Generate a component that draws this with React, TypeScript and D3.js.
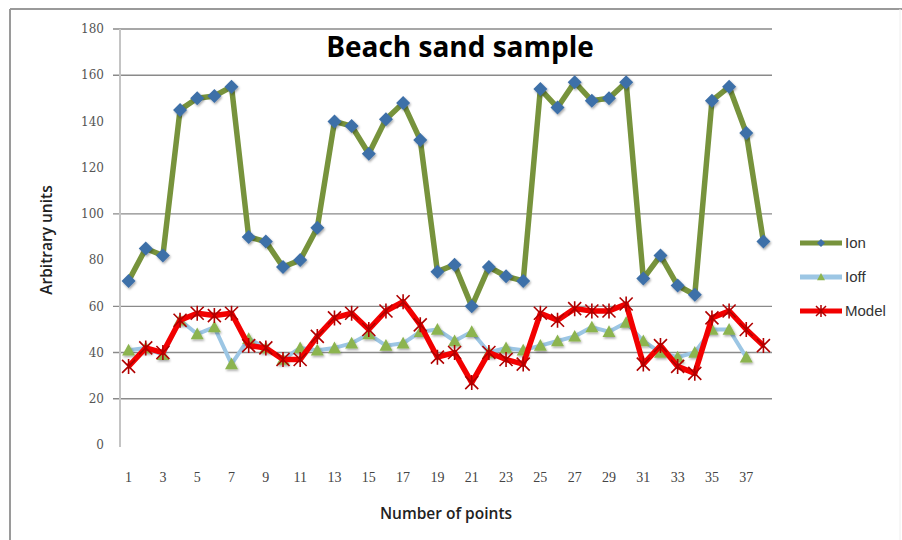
import React from "react";
import * as d3 from "d3";

const points: number[] = d3.range(1, 39);
const ionValues: number[] = [71, 85, 82, 145, 150, 151, 155, 90, 88, 77, 80, 94, 140, 138, 126, 141, 148, 132, 75, 78, 60, 77, 73, 71, 154, 146, 157, 149, 150, 157, 72, 82, 69, 65, 149, 155, 135, 88];
const ioffValues: (number | null)[] = [41, 42, 39, 54, 48, 51, 35, 46, 42, 37, 42, 41, 42, 44, 48, 43, 44, 49, 50, 45, 49, 40, 42, 41, 43, 45, 47, 51, 49, 53, 45, 40, 38, 40, 50, 50, 38, null];
const modelValues: number[] = [34, 42, 40, 54, 57, 56, 57, 43, 42, 37, 37, 47, 55, 57, 50, 58, 62, 52, 38, 40, 27, 40, 37, 35, 57, 54, 59, 58, 58, 61, 35, 43, 34, 31, 55, 58, 50, 43];
const yTicks: number[] = [0, 20, 40, 60, 80, 100, 120, 140, 160, 180];
const gridValues: number[] = [20, 40, 60, 100, 160, 180];
const seriesNames: string[] = ["Ion", "Ioff", "Model"];

const W = 902;
const H = 540;

export default function App() {
  const x = d3.scaleBand<number>().domain(points).range([120, 772]);
  const y = d3.scaleLinear().domain([0, 180]).range([445, 29]);
  const cx = (p: number) => (x(p) as number) + x.bandwidth() / 2;

  const line = d3
    .line<[number, number | null]>()
    .defined((d) => d[1] !== null)
    .x((d) => cx(d[0]))
    .y((d) => y(d[1] as number));

  const ionPts: [number, number | null][] = points.map((p, i) => [p, ionValues[i]]);
  const ioffPts: [number, number | null][] = points.map((p, i) => [p, ioffValues[i]]);
  const modelPts: [number, number | null][] = points.map((p, i) => [p, modelValues[i]]);

  const diamond = (px: number, py: number, s = 7) =>
    `M${px},${py - s}L${px + s},${py}L${px},${py + s}L${px - s},${py}Z`;
  const triangle = (px: number, py: number, s = 6.5) =>
    `M${px},${py - s}L${px + s},${py + s * 0.8}L${px - s},${py + s * 0.8}Z`;
  const star = (px: number, py: number, s = 6.5) =>
    `M${px - s},${py - s}L${px + s},${py + s}M${px - s},${py + s}L${px + s},${py - s}M${px},${py - s - 1}L${px},${py + s + 1}`;

  const ionColor = "#77933C";
  const ionMarker = "#3E6FA8";
  const ioffColor = "#9CC6E4";
  const ioffMarker = "#8CB450";
  const modelColor = "#F20000";
  const modelMarker = "#B00000";

  const legendY = [243, 277, 311];

  return (
    <div style={{ position: "absolute", left: 0, top: 0 }}>
      <svg width={W} height={H} style={{ display: "block", background: "#fff" }}>
        <defs>
          <filter id="shadow" x="-50%" y="-50%" width="200%" height="200%">
            <feDropShadow dx="1" dy="1.5" stdDeviation="1" floodColor="#000" floodOpacity="0.35" />
          </filter>
        </defs>
        {/* frame */}
        <line x1={10} y1={9} x2={W} y2={9} stroke="#9a9a9a" strokeWidth={2} />
        <line x1={10} y1={9} x2={10} y2={H} stroke="#9a9a9a" strokeWidth={2} />
        <line x1={900} y1={9} x2={900} y2={H} stroke="#eeeeee" strokeWidth={1} />

        {/* gridlines */}
        {gridValues.map((v) => (
          <line key={"g" + v} x1={113} x2={772} y1={y(v)} y2={y(v)} stroke="#8a8a8a" strokeWidth={1.4} />
        ))}
        {/* y axis */}
        <line x1={120} x2={120} y1={29} y2={447} stroke="#c4c4c4" strokeWidth={2} />
        {yTicks.map((v) => (
          <text
            key={"t" + v}
            x={104}
            y={y(v)}
            dy="0.35em"
            textAnchor="end"
            fontFamily="'DejaVu Serif', 'Liberation Serif', serif"
            fontSize={12}
            fill="#555"
          >
            {v}
          </text>
        ))}
        {/* x ticks */}
        {points
          .filter((p) => p % 2 === 1)
          .map((p) => (
            <text
              key={"x" + p}
              x={cx(p)}
              y={482}
              textAnchor="middle"
              fontFamily="'Liberation Serif', serif"
              fontSize={14}
              fill="#444"
            >
              {p}
            </text>
          ))}

        {/* title */}
        <text
          x={460}
          y={57}
          textAnchor="middle"
          fontFamily="'Open Sans', 'Liberation Sans', sans-serif"
          fontWeight="bold"
          fontSize={28}
          fill="#000"
        >
          Beach sand sample
        </text>
        {/* axis titles */}
        <text
          x={446}
          y={519}
          textAnchor="middle"
          fontFamily="'Open Sans', 'Liberation Sans', sans-serif"
          fontWeight="600"
          fontSize={15.5}
          fill="#222"
        >
          Number of points
        </text>
        <text
          transform="translate(52,240) rotate(-90)"
          textAnchor="middle"
          fontFamily="'Open Sans', 'Liberation Sans', sans-serif"
          fontWeight="600"
          fontSize={15.5}
          fill="#222"
        >
          Arbitrary units
        </text>

        {/* Ion */}
        <path d={line(ionPts) || ""} fill="none" stroke={ionColor} strokeWidth={5.5} strokeLinejoin="round" />
        {ionPts.map(([p, v]) => (
          <path key={"ion" + p} d={diamond(cx(p), y(v as number))} fill={ionMarker} filter="url(#shadow)" />
        ))}
        {/* Ioff */}
        <path d={line(ioffPts) || ""} fill="none" stroke={ioffColor} strokeWidth={4} strokeLinejoin="round" />
        {ioffPts
          .filter((d) => d[1] !== null)
          .map(([p, v]) => (
            <path key={"ioff" + p} d={triangle(cx(p), y(v as number))} fill={ioffMarker} filter="url(#shadow)" />
          ))}
        {/* Model */}
        <path d={line(modelPts) || ""} fill="none" stroke={modelColor} strokeWidth={5.5} strokeLinejoin="round" />
        {modelPts.map(([p, v]) => (
          <path key={"m" + p} d={star(cx(p), y(v as number))} fill="none" stroke={modelMarker} strokeWidth={1.6} />
        ))}

        {/* legend */}
        {seriesNames.map((name, i) => {
          const ly = legendY[i];
          const col = [ionColor, ioffColor, modelColor][i];
          return (
            <g key={name}>
              <line x1={800} x2={842} y1={ly} y2={ly} stroke={col} strokeWidth={5} />
              {i === 0 && <path d={diamond(821, ly, 4)} fill={ionMarker} />}
              {i === 1 && <path d={triangle(821, ly, 4)} fill={ioffMarker} />}
              {i === 2 && <path d={star(821, ly, 5)} fill="none" stroke={modelMarker} strokeWidth={1.5} />}
              <text
                x={845}
                y={ly}
                dy="0.35em"
                fontFamily="'Liberation Sans', sans-serif"
                fontSize={15}
                fill="#333"
              >
                {name}
              </text>
            </g>
          );
        })}
      </svg>
    </div>
  );
}
